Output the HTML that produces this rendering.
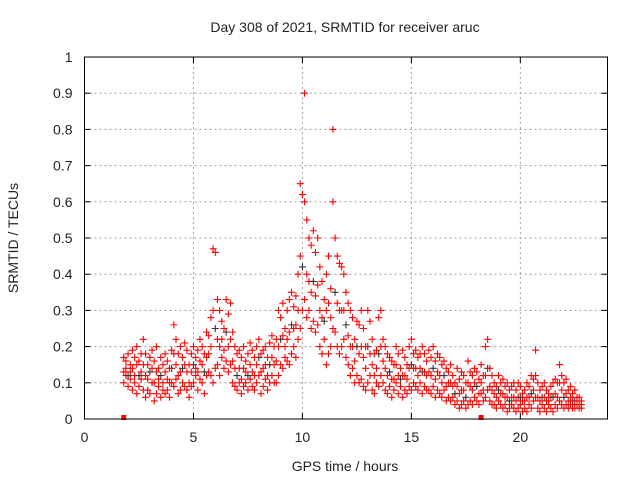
<!DOCTYPE html>
<html><head><meta charset="utf-8"><style>
html,body{margin:0;padding:0;background:#fff}
svg text{font-family:"Liberation Sans",sans-serif;font-size:14px;fill:#222}
</style></head><body>
<svg id="chart" width="640" height="480" viewBox="0 0 640 480" xmlns="http://www.w3.org/2000/svg">
<rect width="640" height="480" fill="#fff"/>
<g id="grid"></g>
<g id="pts"></g>
<g id="axes"></g>
<text x="345" y="32" text-anchor="middle">Day 308 of 2021, SRMTID for receiver aruc</text>
<text x="345" y="471" text-anchor="middle">GPS time / hours</text>
<text x="18" y="238" text-anchor="middle" transform="rotate(-90 18 238)">SRMTID / TECUs</text>
</svg>
<script>
const xTicks=[0,5,10,15,20];
const yTicks=[0,0.1,0.2,0.3,0.4,0.5,0.6,0.7,0.8,0.9,1];
const yTickLabels=["0","0.1","0.2","0.3","0.4","0.5","0.6","0.7","0.8","0.9","1"];
const tStart=1.8, tStep=0.1;
const hiVals=[.17,.16,.18,.15,.19,.17,.2,.16,.18,.22,
.18,.15,.17,.19,.16,.2,.14,.17,.15,.18,
.16,.14,.19,.26,.22,.18,.2,.17,.21,.19,
.15,.18,.2,.17,.19,.22,.2,.18,.24,.23,
.28,.47,.46,.33,.3,.27,.25,.33,.29,.32,
.24,.2,.18,.19,.17,.2,.16,.18,.21,.19,
.17,.2,.22,.18,.19,.2,.17,.21,.23,.2,
.22,.3,.28,.32,.25,.3,.33,.35,.31,.34,
.4,.65,.62,.9,.55,.5,.48,.52,.46,.5,
.42,.38,.33,.4,.45,.36,.8,.5,.45,.43,
.42,.4,.35,.32,.3,.28,.22,.27,.26,.3,
.25,.2,.3,.27,.22,.18,.19,.28,.3,.22,
.2,.18,.17,.16,.15,.2,.18,.14,.19,.17,
.15,.2,.22,.18,.19,.17,.18,.2,.18,.16,
.19,.17,.2,.16,.18,.17,.15,.16,.14,.13,
.15,.12,.1,.14,.11,.13,.12,.1,.16,.13,
.12,.14,.13,.11,.15,.12,.2,.22,.14,.12,
.1,.09,.12,.1,.11,.09,.1,.08,.09,.1,
.08,.1,.09,.07,.08,.1,.09,.12,.11,.19,
.1,.08,.09,.1,.08,.07,.09,.1,.11,.1,
.15,.12,.1,.11,.08,.09,.07,.08,.06,.06,.05];
const midVals=[.13,.14,.12,.13,.14,.12,.15,.12,.13,.15,
.12,.11,.13,.14,.1,.13,.11,.12,.1,.13,
.11,.1,.14,.18,.15,.12,.13,.14,.15,.13,
.1,.13,.15,.14,.13,.16,.15,.13,.17,.18,
.2,.3,.25,.22,.2,.22,.19,.24,.2,.22,
.16,.14,.12,.14,.11,.14,.13,.12,.15,.13,
.12,.15,.17,.13,.14,.15,.12,.15,.17,.15,
.16,.2,.22,.23,.2,.22,.24,.26,.25,.26,
.3,.45,.42,.6,.4,.38,.35,.38,.34,.37,
.3,.28,.27,.3,.32,.28,.6,.35,.32,.3,
.3,.3,.26,.23,.2,.2,.16,.2,.18,.2,
.17,.14,.2,.18,.15,.12,.14,.18,.2,.16,
.14,.12,.13,.11,.11,.15,.12,.11,.12,.12,
.11,.14,.15,.14,.14,.12,.14,.13,.13,.12,
.13,.12,.14,.11,.13,.12,.1,.12,.09,.1,
.1,.09,.07,.09,.07,.08,.08,.06,.1,.09,
.08,.1,.09,.07,.1,.08,.12,.14,.09,.08,
.07,.06,.08,.07,.07,.06,.06,.05,.06,.06,
.05,.06,.06,.05,.05,.06,.06,.07,.08,.12,
.06,.05,.06,.06,.05,.05,.06,.06,.07,.06,
.1,.08,.06,.07,.05,.06,.05,.05,.05,.04,.04];
const loVals=[.1,.12,.09,.11,.08,.1,.07,.09,.11,.08,
.06,.08,.07,.1,.05,.07,.09,.06,.08,.07,
.08,.06,.1,.09,.11,.07,.08,.1,.09,.08,
.06,.09,.1,.12,.08,.11,.1,.07,.12,.13,
.12,.1,.14,.15,.12,.17,.14,.16,.13,.15,
.1,.09,.08,.1,.07,.09,.1,.08,.11,.09,
.08,.1,.12,.07,.09,.11,.08,.1,.12,.1,
.1,.12,.15,.14,.17,.16,.15,.18,.2,.17,
.22,.25,.3,.33,.28,.3,.25,.27,.24,.26,
.2,.18,.22,.15,.18,.2,.25,.24,.2,.18,
.2,.22,.17,.15,.12,.14,.1,.12,.1,.11,
.09,.08,.1,.12,.08,.07,.1,.09,.12,.1,
.08,.07,.09,.06,.08,.1,.07,.09,.06,.08,
.07,.09,.08,.1,.09,.08,.1,.07,.09,.08,
.08,.07,.09,.06,.08,.07,.06,.08,.05,.06,
.05,.06,.04,.05,.03,.04,.05,.03,.04,.05,
.04,.06,.05,.04,.07,.05,.06,.08,.05,.04,
.04,.03,.05,.04,.03,.04,.02,.03,.04,.03,
.02,.03,.04,.02,.03,.02,.04,.03,.05,.06,
.03,.02,.04,.03,.02,.04,.03,.02,.04,.03,
.05,.04,.03,.04,.03,.04,.03,.03,.04,.03,.03];
const zeroTimes=[1.8,18.2];

const X0=84.5,X1=607.5,Y0=419,Y1=57;
const xs=t=>X0+t/24*(X1-X0);
const ys=v=>Y0-v*(Y0-Y1);
const NS="http://www.w3.org/2000/svg";
function mk(tag,attrs,parent){const e=document.createElementNS(NS,tag);for(const k in attrs)e.setAttribute(k,attrs[k]);parent.appendChild(e);return e;}
const grid=document.getElementById('grid'),axes=document.getElementById('axes'),pts=document.getElementById('pts');
yTicks.forEach((v,i)=>{
  const y=ys(v);
  if(i>0&&i<yTicks.length-1){const g=mk('line',{x1:X0,x2:X1,y1:y,y2:y,stroke:'#a0a0a0','stroke-dasharray':'2,3'},grid);
  
  }
  mk('line',{x1:X0,x2:X0+6,y1:y,y2:y,stroke:'#000'},axes);
  mk('line',{x1:X1,x2:X1-6,y1:y,y2:y,stroke:'#000'},axes);
  const t=mk('text',{x:X0-12,y:y+5,'text-anchor':'end'},axes);t.textContent=yTickLabels[i];
  
  
});
xTicks.forEach(v=>{
  const x=xs(v);
  if(v>0){const g=mk('line',{x1:x,x2:x,y1:Y0,y2:Y1,stroke:'#a0a0a0','stroke-dasharray':'2,3'},grid);
  
  }
  mk('line',{x1:x,x2:x,y1:Y0,y2:Y0-6,stroke:'#000'},axes);
  mk('line',{x1:x,x2:x,y1:Y1,y2:Y1+6,stroke:'#000'},axes);
  const t=mk('text',{x:x,y:Y0+23,'text-anchor':'middle'},axes);t.textContent=String(v);
  
  
});
mk('rect',{x:X0,y:Y1,width:X1-X0,height:Y0-Y1,fill:'none',stroke:'#000'},axes);
function plus(x,y,color,name){
  const p=mk('path',{d:`M${x-3.5},${y}h7M${x},${y-3.5}v7`,stroke:color,'stroke-width':1.1,fill:'none'},pts);
  
  
}
[loVals,midVals].forEach((arr,si)=>arr.forEach((v,i)=>{
  const t=tStart+i*tStep;
  plus(xs(t),ys(v),si===1&&i%5===2?'#333':'#ff0000','data-point');
}));
hiVals.forEach((v,i)=>{plus(xs(tStart+i*tStep),ys(v),'#ff0000','data-point');});
zeroTimes.forEach(t=>{
  const r=mk('rect',{x:xs(t)-2.5,y:Y0-4,width:5,height:5,fill:'#ff0000'},pts);
  
  
});
</script>
</body></html>
